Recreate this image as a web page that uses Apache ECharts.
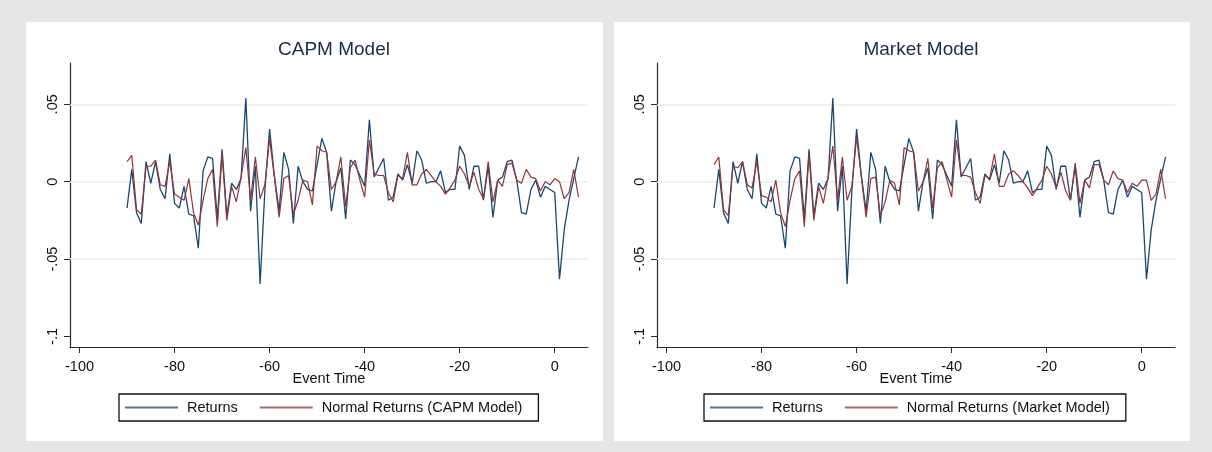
<!DOCTYPE html>
<html><head><meta charset="utf-8">
<script src="https://cdn.jsdelivr.net/npm/echarts@6/dist/echarts.min.js"></script>
<style>html,body{margin:0;padding:0;background:#e6e6e6;}#c{width:1212px;height:452px;}</style>
</head><body><div id="c"></div>
<script>
const eventTime = [-90,-89,-88,-87,-86,-85,-84,-83,-82,-81,-80,-79,-78,-77,-76,-75,-74,-73,-72,-71,
  -70,-69,-68,-67,-66,-65,-64,-63,-62,-61,-60,-59,-58,-57,-56,-55,-54,-53,-52,-51,
  -50,-49,-48,-47,-46,-45,-44,-43,-42,-41,-40,-39,-38,-37,-36,-35,-34,-33,-32,-31,
  -30,-29,-28,-27,-26,-25,-24,-23,-22,-21,-20,-19,-18,-17,-16,-15,-14,-13,-12,-11,
  -10,-9,-8,-7,-6,-5,-4,-3,-2,-1,0,1,2,3,4,5];

const returns = [-0.017,0.008,-0.020,-0.027,0.013,-0.001,0.013,-0.005,-0.011,0.018,
  -0.014,-0.017,-0.003,-0.021,-0.022,-0.043,0.007,0.016,0.015,-0.024,
  0.021,-0.022,-0.001,-0.005,0.002,0.054,-0.019,0.010,-0.066,-0.006,
  0.034,0.004,-0.019,0.019,0.008,-0.027,0.010,0.000,-0.005,-0.006,
  0.011,0.028,0.019,-0.019,0.000,0.009,-0.024,0.014,0.011,0.004,
  -0.003,0.040,0.003,0.009,0.015,-0.012,-0.010,0.005,0.001,0.011,
  -0.001,0.020,0.014,-0.001,0.000,0.000,0.007,-0.007,-0.005,-0.005,
  0.023,0.017,-0.005,0.010,0.010,-0.012,0.010,-0.023,0.001,0.003,
  0.013,0.014,0.001,-0.020,-0.021,-0.005,0.001,-0.010,-0.003,-0.005,
  -0.007,-0.063,-0.031,-0.012,0.002,0.016];

const normalCapm = [0.013,0.017,-0.018,-0.021,0.010,0.010,0.014,-0.002,-0.003,0.013,
  -0.008,-0.010,-0.012,0.002,-0.020,-0.028,-0.012,0.002,0.008,-0.029,
  0.018,-0.025,-0.003,-0.013,0.003,0.022,-0.012,0.016,-0.011,-0.002,
  0.028,0.003,-0.023,0.002,0.004,-0.021,-0.012,0.001,0.000,-0.015,
  0.023,0.020,0.019,-0.005,0.000,0.016,-0.016,0.009,0.014,0.001,
  -0.010,0.027,0.005,0.004,0.004,-0.007,-0.013,0.004,0.002,0.019,
  -0.002,-0.002,0.005,0.008,0.004,0.000,-0.003,-0.008,-0.004,0.001,
  0.010,0.005,-0.003,0.006,-0.005,-0.011,0.013,-0.013,0.001,-0.003,
  0.011,0.012,0.001,-0.001,0.008,0.003,0.002,-0.006,0.000,-0.002,
  0.002,0.000,-0.011,-0.007,0.008,-0.010];

const normalMarket = [0.011,0.016,-0.018,-0.022,0.010,0.009,0.013,-0.002,-0.004,0.013,
  -0.009,-0.010,-0.013,0.001,-0.020,-0.029,-0.012,0.002,0.007,-0.029,
  0.018,-0.025,-0.003,-0.014,0.003,0.023,-0.012,0.016,-0.012,-0.003,
  0.029,0.003,-0.023,0.002,0.003,-0.022,-0.013,0.001,-0.001,-0.015,
  0.022,0.020,0.019,-0.006,0.000,0.015,-0.017,0.009,0.013,0.001,
  -0.010,0.027,0.004,0.004,0.003,-0.007,-0.014,0.004,0.002,0.018,
  -0.003,-0.003,0.005,0.007,0.004,0.000,-0.004,-0.009,-0.004,0.001,
  0.010,0.005,-0.004,0.006,-0.006,-0.012,0.012,-0.014,0.001,-0.004,
  0.011,0.011,0.001,-0.002,0.007,0.002,0.001,-0.007,-0.001,-0.003,
  0.001,0.001,-0.012,-0.008,0.008,-0.011];

const xTicks = [-100,-80,-60,-40,-20,0];
const yTicks = [-0.1,-0.05,0,0.05];
const gridLevels = [0.05,0,-0.05];
const titles = ['CAPM Model','Market Model'];
const normalNames = ['Normal Returns (CAPM Model)','Normal Returns (Market Model)'];

const FONT = '"Liberation Sans", Arial, sans-serif';
const TXT = '#111';
const BLUE = '#1a476f', RED = '#90353b';

function yFmt(v){ if (Math.abs(v)<1e-9) return '0'; return String(+v.toFixed(2)).replace('0.', '.'); }
function pairs(ys){ return eventTime.map((t,i)=>[t, ys[i]]); }

const gridLeft = [70, 657];
const panelX = [26, 614], panelW = [577, 576];
const legendLeft = [119, 704];
const normals = [normalCapm, normalMarket];

const option = {
  backgroundColor: '#e6e6e6',
  animation: false,
  graphic: panelX.map((x,i)=>({type:'rect', silent:true, z:-10, shape:{x:x, y:22, width:panelW[i], height:419}, style:{fill:'#ffffff'}})),
  title: titles.map((t,i)=>({text:t, left: gridLeft[i]+259, top: 35, textAlign:'center',
    textStyle:{fontSize:19, fontWeight:'normal', color:'#1c2b44', fontFamily:FONT}})),
  legend: [0,1].map(i=>({
    left: legendLeft[i], top: 394, orient:'horizontal',
    data: ['Returns', normalNames[i]],
    icon: 'rect',
    itemWidth: 53, itemHeight: 2, itemGap: 22,
    padding: [6, 16, 6, 6],
    borderColor: '#111', borderWidth: 1.3,
    backgroundColor: '#fff',
    itemStyle: {opacity: 0.75},
    textStyle: {fontSize: 14.5, color: TXT, fontFamily: FONT, padding:[0,0,0,4]}
  })),
  grid: gridLeft.map(l=>({left:l, top:63, width:518, height:284})),
  xAxis: [0,1].map(i=>({
    gridIndex:i, type:'value', min:-102, max:7,
    axisLine:{show:true, onZero:false, lineStyle:{color:'#2a2a2a', width:1.2}},
    axisTick:{show:true, length:6, customValues:xTicks, lineStyle:{color:'#2a2a2a'}},
    axisLabel:{customValues:xTicks, margin:12, fontSize:14.5, color:TXT, fontFamily:FONT},
    splitLine:{show:false},
    name:'Event Time', nameLocation:'middle', nameGap:24, nameMoveOverlap:false,
    nameTextStyle:{fontSize:14.5, color:TXT, fontFamily:FONT}
  })),
  yAxis: [0,1].map(i=>({
    gridIndex:i, type:'value', min:-0.1068, max:0.0767,
    axisLine:{show:true, onZero:false, lineStyle:{color:'#2a2a2a', width:1.2}},
    axisTick:{show:true, length:6, customValues:yTicks, lineStyle:{color:'#2a2a2a'}},
    axisLabel:{customValues:yTicks, rotate:90, margin:10, fontSize:14.5, color:TXT, fontFamily:FONT, formatter:yFmt},
    splitLine:{show:false}
  })),
  series: []
};

[0,1].forEach(i=>{
  option.series.push({
    type:'line', name:'Returns', xAxisIndex:i, yAxisIndex:i, data: pairs(returns),
    symbol:'none', showSymbol:false, z:2,
    lineStyle:{color:BLUE, width:1.3}, itemStyle:{color:BLUE},
    markLine:{silent:true, symbol:'none', z:1, label:{show:false},
      lineStyle:{color:'#e6eff1', type:'solid', width:1.5},
      emphasis:{disabled:true},
      data: gridLevels.map(v=>({yAxis:v}))}
  });
  option.series.push({
    type:'line', name:normalNames[i], xAxisIndex:i, yAxisIndex:i, data: pairs(normals[i]),
    symbol:'none', showSymbol:false, z:3,
    lineStyle:{color:RED, width:1.2}, itemStyle:{color:RED}
  });
});

const chart = echarts.init(document.getElementById('c'), null, {renderer:'canvas'});
chart.setOption(option);
</script></body></html>
